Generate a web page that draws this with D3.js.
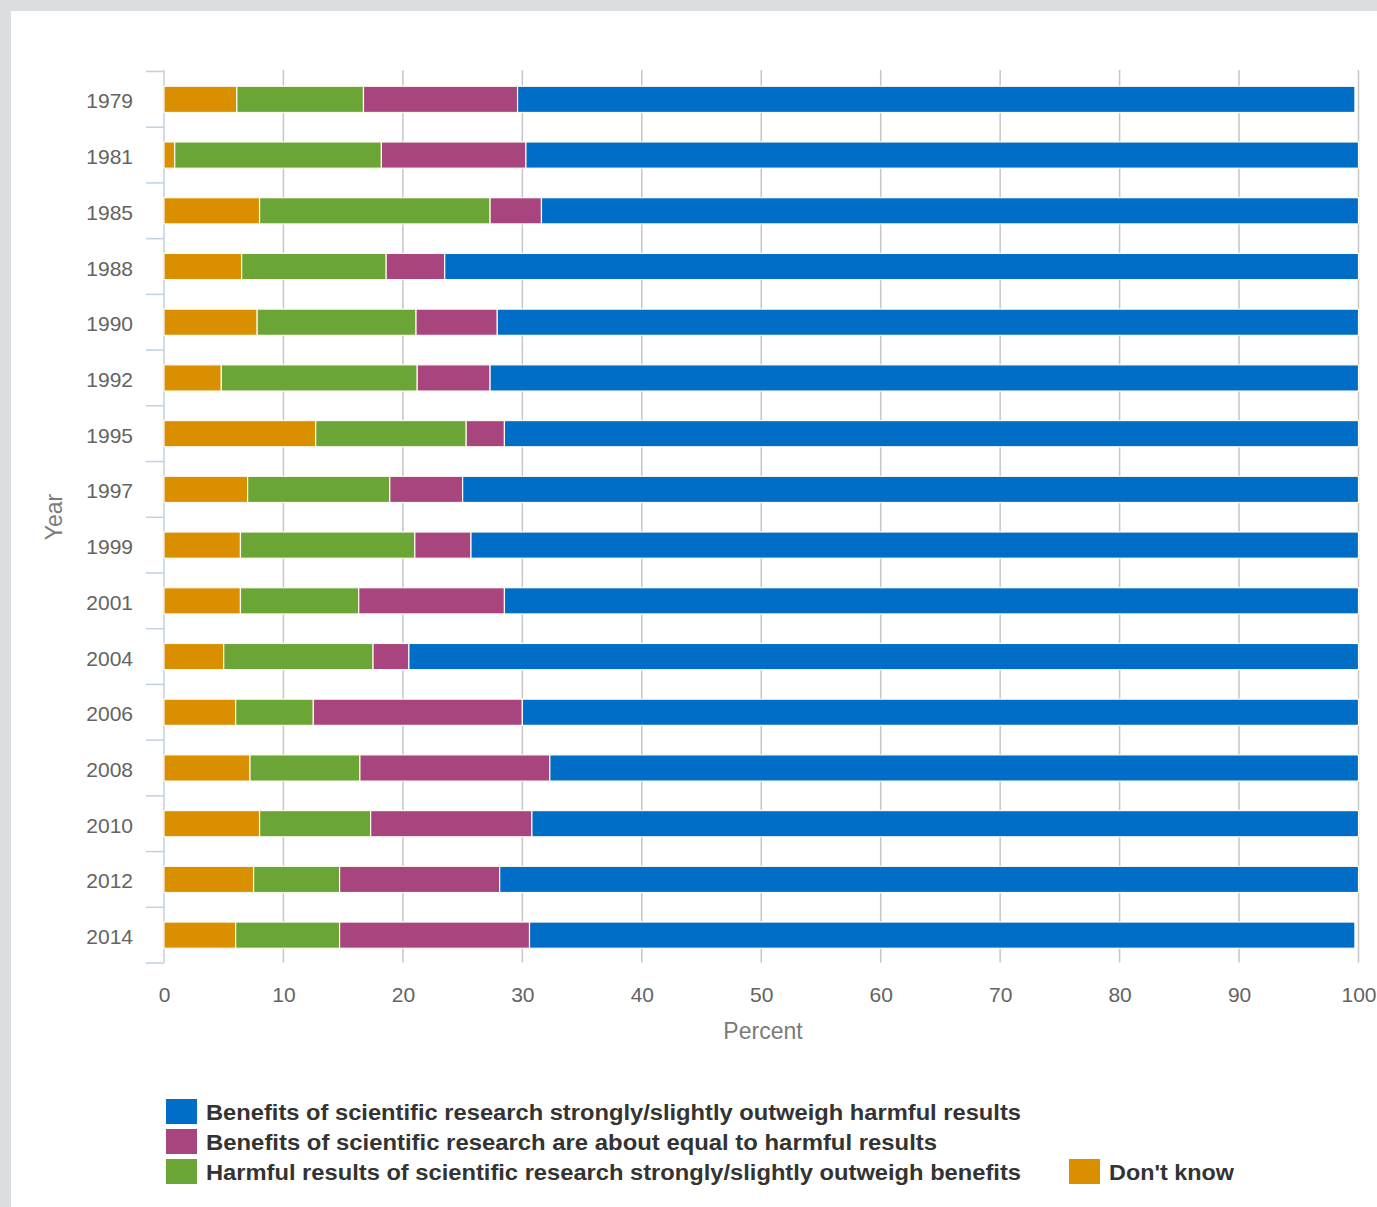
<!DOCTYPE html>
<html>
<head>
<meta charset="utf-8">
<script src="https://cdn.jsdelivr.net/npm/d3@7"></script>
<style>
  html, body { margin: 0; padding: 0; background: #dcdddf; }
  svg { display: block; }
</style>
</head>
<body>
<script>
// Survey years, top to bottom
const years = ["1979", "1981", "1985", "1988", "1990", "1992", "1995", "1997",
               "1999", "2001", "2004", "2006", "2008", "2010", "2012", "2014"];

// Percent of respondents per answer
const dontKnow = [6.1, 0.9, 8.0, 6.5, 7.8, 4.8, 12.7, 7.0, 6.4, 6.4, 5.0, 6.0, 7.2, 8.0, 7.5, 6.0];
const harmful  = [10.6, 17.3, 19.3, 12.1, 13.3, 16.4, 12.6, 11.9, 14.6, 9.9, 12.5, 6.5, 9.2, 9.3, 7.2, 8.7];
const equal    = [12.9, 12.1, 4.3, 4.9, 6.8, 6.1, 3.2, 6.1, 4.7, 12.2, 3.0, 17.5, 15.9, 13.5, 13.4, 15.9];
const benefits = [70.1, 69.7, 68.4, 76.5, 72.1, 72.7, 71.5, 75.0, 74.3, 71.5, 79.5, 70.0, 67.7, 69.2, 71.9, 69.1];

const xTicks = [0, 10, 20, 30, 40, 50, 60, 70, 80, 90, 100];

const seriesKeys = ["dontKnow", "harmful", "equal", "benefits"];
const seriesLabels = {
  benefits: "Benefits of scientific research strongly/slightly outweigh harmful results",
  equal: "Benefits of scientific research are about equal to harmful results",
  harmful: "Harmful results of scientific research strongly/slightly outweigh benefits",
  dontKnow: "Don't know"
};
const colors = {
  benefits: "#006ec6",
  equal: "#a8447e",
  harmful: "#6aa536",
  dontKnow: "#d98f00"
};

const rows = years.map((y, i) => ({
  year: y,
  dontKnow: dontKnow[i],
  harmful: harmful[i],
  equal: equal[i],
  benefits: benefits[i]
}));

const W = 1377, H = 1207;
const svg = d3.select("body").append("svg").attr("width", W).attr("height", H);

// white card on grey page
svg.append("rect").attr("x", 11).attr("y", 11).attr("width", W - 11).attr("height", H - 11).attr("fill", "#fff");

const x = d3.scaleLinear().domain([0, 100]).range([164, 1358.5]);
const y = d3.scaleBand().domain(years).range([71.5, 963]).paddingInner(0.53).paddingOuter(0.265);

const font = "'Liberation Sans', Arial, sans-serif";

// vertical grid
svg.append("g").selectAll("line").data(xTicks.slice(1)).join("line")
  .attr("x1", d => x(d)).attr("x2", d => x(d))
  .attr("y1", 70).attr("y2", 962.5)
  .attr("stroke", "#c6c6c6").attr("stroke-width", 1.5);

// y axis line + category separators
const yAxisG = svg.append("g");
yAxisG.append("line").attr("x1", 164).attr("x2", 164).attr("y1", 70).attr("y2", 963)
  .attr("stroke", "#c3d1e0").attr("stroke-width", 1.5);
const step = y.step();
const bounds = d3.range(years.length + 1).map(i => 71.5 + i * step);
yAxisG.selectAll("line.sep").data(bounds).join("line").attr("class", "sep")
  .attr("x1", 146).attr("x2", 164)
  .attr("y1", d => d).attr("y2", d => d)
  .attr("stroke", "#c3d1e0").attr("stroke-width", 1.5);

// year labels
svg.append("g").selectAll("text").data(years).join("text")
  .attr("x", 133).attr("y", d => y(d) + y.bandwidth() / 2 + 9)
  .attr("text-anchor", "end")
  .attr("font-family", font).attr("font-size", 21).attr("fill", "#636363")
  .text(d => d);

// stacked bars
const stacked = d3.stack().keys(seriesKeys)(rows);
svg.append("g").selectAll("g").data(stacked).join("g")
  .attr("fill", d => colors[d.key])
  .selectAll("rect").data(d => d).join("rect")
  .attr("x", d => x(d[0]))
  .attr("y", d => y(d.data.year))
  .attr("width", d => x(d[1]) - x(d[0]))
  .attr("height", y.bandwidth())
  .attr("stroke", "#fdfbf0").attr("stroke-width", 1.2);

// x axis tick labels
const xAxis = d3.axisBottom(x).tickValues(xTicks).tickSize(0).tickPadding(0).tickFormat(d3.format("d"));
const xg = svg.append("g").attr("transform", "translate(0,1002)").call(xAxis);
xg.select(".domain").remove();
xg.selectAll("text")
  .attr("dy", 0).attr("y", 0)
  .attr("font-family", font).attr("font-size", 21).attr("fill", "#636363");

// axis titles
svg.append("text").attr("x", 763).attr("y", 1039)
  .attr("text-anchor", "middle")
  .attr("font-family", font).attr("font-size", 23).attr("fill", "#7a7a7a")
  .text("Percent");
svg.append("text").attr("transform", "translate(62,517) rotate(-90)")
  .attr("text-anchor", "middle")
  .attr("font-family", font).attr("font-size", 23).attr("fill", "#7a7a7a")
  .text("Year");

// legend
const legendItems = [
  { key: "benefits", x: 166, y: 1099, w: 815 },
  { key: "equal", x: 166, y: 1129, w: 731 },
  { key: "harmful", x: 166, y: 1159, w: 815 },
  { key: "dontKnow", x: 1069, y: 1159, w: 125 }
];
const lg = svg.append("g").selectAll("g").data(legendItems).join("g")
  .attr("transform", d => `translate(${d.x},${d.y})`);
lg.append("rect").attr("width", 31).attr("height", 25)
  .attr("fill", d => colors[d.key]);
lg.append("text").attr("x", 40).attr("y", 21)
  .attr("font-family", font).attr("font-weight", "bold").attr("font-size", 22)
  .attr("fill", "#333")
  .attr("textLength", d => d.w).attr("lengthAdjust", "spacingAndGlyphs")
  .text(d => seriesLabels[d.key]);
</script>
</body>
</html>
